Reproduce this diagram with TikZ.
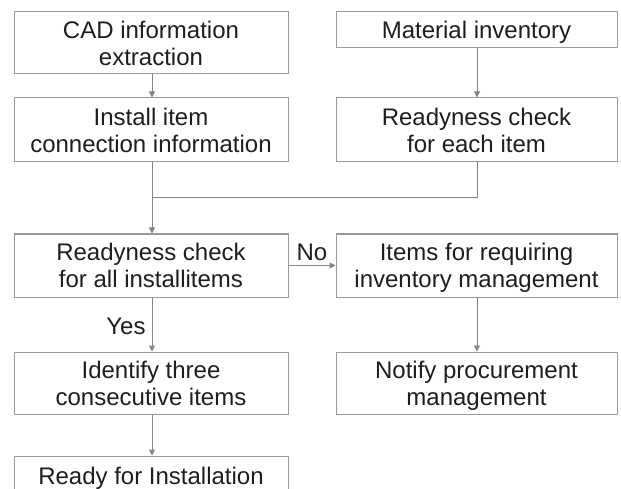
\documentclass[tikz,border=0pt]{standalone}
\usepackage{fontspec}
\setmainfont{Liberation Sans}
\usetikzlibrary{arrows.meta}
\definecolor{boxline}{HTML}{9A9A9A}
\definecolor{flowline}{HTML}{858585}
\definecolor{ink}{HTML}{1E1E1E}
% centred block of lines, set slightly low inside its box
\newcommand\boxlines[1]{\raisebox{-3.5pt}[\height][\depth]{\begin{tabular}{@{}c@{}}#1\end{tabular}}}
\begin{document}
\begin{tikzpicture}[x=1pt,y=-1pt,
  every node/.style={font=\fontsize{24}{27}\selectfont, text=ink},
  leftbox/.style={draw=boxline, line width=1pt, minimum width=274pt, inner sep=0pt},
  rightbox/.style={draw=boxline, line width=1pt, minimum width=281pt, inner sep=0pt},
  flow/.style={draw=flowline, line width=1pt},
  flowarrow/.style={flow, -{Triangle[length=6pt,width=6pt]}}]
\useasboundingbox (0,0) rectangle (621,489);

% left column
\node[leftbox, minimum height=62pt] (cad) at (151,43) {\boxlines{CAD information\\extraction}};
\node[leftbox, minimum height=64pt] (inst) at (151,130) {\boxlines{Install item\\connection information}};
\node[leftbox, minimum height=63pt] (all) at (151,265.5) {\boxlines{Readyness check\\for all installitems}};
\node[leftbox, minimum height=62pt] (ident) at (151,383) {\boxlines{Identify three\\consecutive items}};
\node[leftbox, minimum height=46pt, text depth=6pt] (ready) at (151,479) {Ready for Installation};

% right column
\node[rightbox, minimum height=36pt] (mat) at (476.5,30) {\boxlines{Material inventory}};
\node[rightbox, minimum height=64pt] (each) at (476.5,130) {\boxlines{Readyness check\\for each item}};
\node[rightbox, minimum height=63pt] (req) at (476.5,265.5) {\boxlines{Items for requiring\\inventory management}};
\node[rightbox, minimum height=62pt] (notify) at (476.5,383) {\boxlines{Notify procurement\\management}};

% connectors
\coordinate (merge) at (152,198);
\draw[flowarrow] ([xshift=1pt]cad.south) -- ([xshift=1pt]inst.north);
\draw[flowarrow] ([xshift=1pt]inst.south) -- ([xshift=1pt]all.north);
\draw[flow] ([xshift=0.5pt]each.south) |- (merge);
\draw[flowarrow] ([xshift=0.5pt]mat.south) -- ([xshift=0.5pt]each.north);
\draw[flowarrow] (all.east) -- node[above, inner sep=4pt] {No} (req.west);
\draw[flowarrow] ([xshift=1pt]all.south) -- node[left, inner sep=6pt, yshift=-2pt] {Yes} ([xshift=1pt]ident.north);
\draw[flowarrow] ([xshift=1pt]ident.south) -- ([xshift=1pt]ready.north);
\draw[flowarrow] ([xshift=0.5pt]req.south) -- ([xshift=0.5pt]notify.north);
\end{tikzpicture}
\end{document}
